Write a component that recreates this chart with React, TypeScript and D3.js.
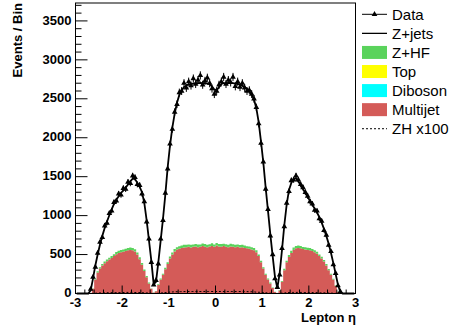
import React from "react";
import * as d3 from "d3";

// Binning: 120 bins of width 0.05 from eta = -3 to 3
const ETA_MIN = -3;
const ETA_MAX = 3;
const BIN_WIDTH = 0.05;

// Z+jets expectation (line)
const zjets = [
  0, 0, 0, 0, 0, 0, 40, 190, 360, 500,
  630, 740, 840, 925, 1005, 1080, 1150, 1205, 1250, 1290,
  1325, 1360, 1400, 1440, 1475, 1470, 1420, 1370, 1300, 1160,
  940, 680, 420, 120, 150, 400, 680, 960, 1270, 1620,
  1900, 2130, 2310, 2450, 2550, 2610, 2650, 2670, 2685, 2690,
  2695, 2700, 2700, 2705, 2700, 2700, 2695, 2690, 2660, 2620,
  2610, 2650, 2690, 2700, 2700, 2705, 2700, 2700, 2695, 2690,
  2685, 2670, 2650, 2630, 2600, 2560, 2490, 2380, 2200, 1950,
  1680, 1360, 1060, 760, 480, 210, 70, 260, 560, 880,
  1140, 1330, 1420, 1470, 1480, 1440, 1390, 1340, 1290, 1240,
  1190, 1140, 1090, 1040, 980, 910, 830, 740, 640, 520,
  390, 250, 110, 20, 0, 0, 0, 0, 0, 0,
];

// Observed data
const dataObs = [
  0, 0, 0, 0, 0, 0, 55, 210, 340, 520,
  660, 720, 870, 905, 1030, 1060, 1170, 1190, 1280, 1265,
  1350, 1340, 1430, 1415, 1510, 1490, 1400, 1390, 1280, 1180,
  920, 700, 400, 110, 170, 380, 700, 940, 1290, 1600,
  1920, 2110, 2330, 2430, 2580, 2600, 2700, 2640, 2720, 2670,
  2760, 2690, 2740, 2800, 2680, 2730, 2770, 2700, 2630, 2560,
  2600, 2680, 2720, 2780, 2690, 2740, 2710, 2780, 2660, 2720,
  2650, 2700, 2640, 2600, 2610, 2560, 2500, 2390, 2180, 1930,
  1690, 1340, 1080, 740, 500, 190, 80, 240, 580, 860,
  1160, 1310, 1450, 1460, 1510, 1460, 1400, 1360, 1300, 1250,
  1180, 1150, 1070, 1060, 960, 930, 810, 750, 620, 540,
  370, 260, 100, 25, 0, 0, 0, 0, 0, 0,
];

// Multijet (stack bottom)
const multijet = [
  0, 0, 0, 0, 0, 0, 0, 60, 180, 270,
  320, 360, 390, 415, 435, 455, 480, 505, 520, 530,
  535, 545, 555, 560, 555, 540, 500, 440, 370, 290,
  210, 130, 60, 10, 30, 110, 180, 240, 310, 380,
  450, 500, 540, 565, 575, 585, 590, 595, 600, 590,
  600, 605, 595, 600, 610, 600, 595, 605, 610, 600,
  615, 605, 600, 610, 600, 595, 605, 600, 595, 600,
  590, 595, 585, 580, 575, 565, 555, 530, 480, 400,
  320, 240, 180, 130, 70, 20, 5, 40, 150, 300,
  400, 470, 520, 560, 580, 585, 580, 570, 565, 560,
  555, 545, 530, 510, 480, 450, 410, 360, 300, 240,
  180, 100, 20, 0, 0, 0, 0, 0, 0, 0,
];

// Z+HF (stacked on top)
const zhf = [
  0, 0, 0, 0, 0, 0, 0, 5, 10, 15,
  18, 20, 22, 22, 25, 25, 25, 28, 28, 30,
  30, 30, 30, 30, 30, 28, 28, 25, 22, 18,
  15, 10, 5, 2, 3, 8, 12, 15, 20, 22,
  25, 28, 30, 30, 32, 32, 35, 32, 30, 35,
  30, 32, 35, 30, 32, 35, 30, 28, 35, 30,
  32, 30, 35, 30, 32, 30, 35, 32, 30, 30,
  32, 30, 30, 28, 30, 28, 28, 25, 22, 20,
  18, 15, 12, 10, 6, 3, 1, 4, 10, 18,
  22, 25, 28, 30, 30, 30, 30, 28, 28, 28,
  28, 25, 25, 25, 22, 22, 20, 18, 16, 14,
  10, 6, 2, 0, 0, 0, 0, 0, 0, 0,
];

// ZH signal x100 (dotted)
const zhx100 = [
  0, 0, 0, 0, 0, 0, 0, 2, 4, 6,
  7, 8, 9, 10, 10, 11, 12, 12, 13, 13,
  13, 14, 14, 14, 14, 13, 13, 12, 11, 9,
  7, 5, 3, 1, 1, 3, 6, 9, 12, 15,
  18, 20, 22, 23, 24, 24, 25, 25, 25, 25,
  26, 26, 26, 25, 26, 26, 25, 26, 26, 25,
  25, 26, 26, 25, 26, 26, 26, 25, 25, 25,
  25, 25, 24, 24, 23, 22, 20, 18, 16, 14,
  12, 9, 6, 4, 2, 1, 1, 2, 4, 7,
  10, 12, 13, 14, 14, 14, 14, 13, 13, 13,
  12, 12, 11, 11, 10, 9, 8, 7, 6, 5,
  4, 2, 1, 0, 0, 0, 0, 0, 0, 0,
];

const yTickValues = [0, 500, 1000, 1500, 2000, 2500, 3000, 3500];
const xTickValues = [-3, -2, -1, 0, 1, 2, 3];
const legendLabels = ["Data", "Z+jets", "Z+HF", "Top", "Diboson", "Multijet", "ZH x100"];
const legendKinds = ["data", "line", "box", "box", "box", "box", "dotted"];
const legendColors = ["#000", "#000", "#5ad35c", "#ffff00", "#00ffff", "#d45b58", "#000"];

const FONT = "'Liberation Sans', Arial, Helvetica, sans-serif";

export default function App() {
  const W = 454;
  const H = 333;
  const left = 75.5, right = 355.5, top = 3, bottom = 293.5;
  const x = d3.scaleLinear().domain([ETA_MIN, ETA_MAX]).range([left, right]);
  const y = d3.scaleLinear().domain([0, 3730]).range([bottom, top]);

  const n = zjets.length;
  const edges = d3.range(n + 1).map((i) => ETA_MIN + i * BIN_WIDTH);
  const centers = d3.range(n).map((i) => ETA_MIN + (i + 0.5) * BIN_WIDTH);

  type P = [number, number, number];
  const stepPts = (lo: number[], hi: number[]): P[] => {
    const pts: P[] = lo.map((v, i) => [edges[i], v, hi[i]] as P);
    pts.push([edges[n], lo[n - 1], hi[n - 1]]);
    return pts;
  };
  const area = d3
    .area<P>()
    .x((d) => x(d[0]))
    .y0((d) => y(d[1]))
    .y1((d) => y(d[2]))
    .curve(d3.curveStepAfter);
  const stepLine = d3
    .line<P>()
    .x((d) => x(d[0]))
    .y((d) => y(d[2]))
    .curve(d3.curveStepAfter);
  const smoothLine = d3
    .line<[number, number]>()
    .x((d) => x(d[0]))
    .y((d) => y(d[1]));

  const zeros = multijet.map(() => 0);
  const hfTop = multijet.map((v, i) => v + zhf[i]);

  const redPath = area(stepPts(zeros, multijet)) || "";
  const greenPath = area(stepPts(multijet, hfTop)) || "";
  const zjPath = smoothLine(zjets.map((v, i) => [centers[i], v] as [number, number])) || "";
  const zhPath = stepLine(stepPts(zeros, zhx100)) || "";

  const tri = d3.symbol().type(d3.symbolTriangle).size(14)() || "";

  const yMinor = d3.range(0, 3731, 100);
  const xMinor = d3.range(0, 31).map((i) => ETA_MIN + i * 0.2);

  const legendY = (k: number) => 14.3 + 19.07 * k;

  return (
    <svg
      width={W}
      height={H}
      style={{ position: "fixed", left: 0, top: 0, background: "#fff" }}
      fontFamily={FONT}
    >
      <rect x={0} y={0} width={W} height={H} fill="#fff" />
      {/* stacked fills */}
      <path d={redPath} fill="#d45b58" stroke="none" />
      <path d={greenPath} fill="#5ad35c" stroke="none" />
      {/* ZH x100 */}
      <path d={zhPath} fill="none" stroke="#000" strokeWidth={1} strokeDasharray="2,2" />
      {/* Z+jets line */}
      <path d={zjPath} fill="none" stroke="#000" strokeWidth={1.8} />
      {/* data */}
      <g>
        {dataObs.map((v, i) => {
          if (v <= 0) return null;
          const c = centers[i];
          const err = Math.sqrt(v);
          return (
            <g key={i}>
              <line x1={x(c)} x2={x(c)} y1={y(v - err)} y2={y(v + err)} stroke="#000" strokeWidth={1} />
              <line x1={x(edges[i])} x2={x(edges[i + 1])} y1={y(v)} y2={y(v)} stroke="#000" strokeWidth={1} />
              <path d={tri} transform={`translate(${x(c)},${y(v)})`} fill="#000" />
            </g>
          );
        })}
      </g>
      {/* frame */}
      <rect x={left} y={top} width={right - left} height={bottom - top} fill="none" stroke="#000" strokeWidth={1} />
      {/* y ticks */}
      {yMinor.map((v) => (
        <line key={"ym" + v} x1={left} x2={left + (v % 500 === 0 ? 12 : 6)} y1={y(v)} y2={y(v)} stroke="#000" strokeWidth={1} />
      ))}
      {yTickValues.map((v) => (
        <text key={"yl" + v} x={71.5} y={y(v) - 1} dy="0.36em" textAnchor="end" fontSize={13} fontWeight="bold">
          {v}
        </text>
      ))}
      {/* x ticks */}
      {xMinor.map((v, i) => (
        <line key={"xm" + i} x1={x(v)} x2={x(v)} y1={bottom} y2={bottom - (i % 5 === 0 ? 8 : 4)} stroke="#000" strokeWidth={1} />
      ))}
      {xTickValues.map((v) => (
        <text key={"xl" + v} x={x(v)} y={307} textAnchor="middle" fontSize={13} fontWeight="bold">
          {v}
        </text>
      ))}
      <text x={356} y={322} textAnchor="end" fontSize={13} fontWeight="bold">
        Lepton η
      </text>
      <text transform="translate(22,3) rotate(-90)" textAnchor="end" fontSize={13} fontWeight="bold">
        Events / Bin
      </text>
      {/* legend */}
      {legendLabels.map((lab, k) => {
        const cy = legendY(k);
        const kind = legendKinds[k];
        return (
          <g key={lab}>
            {kind === "box" && <rect x={362} y={cy - 6.5} width={25} height={13} fill={legendColors[k]} />}
            {kind === "line" && <line x1={362} x2={387} y1={cy} y2={cy} stroke="#000" strokeWidth={1.3} />}
            {kind === "dotted" && (
              <line x1={362} x2={387} y1={cy} y2={cy} stroke="#000" strokeWidth={1} strokeDasharray="2,2" />
            )}
            {kind === "data" && (
              <g>
                <line x1={362} x2={387} y1={cy} y2={cy} stroke="#000" strokeWidth={1} />
                <path d={tri} transform={`translate(374.5,${cy})`} fill="#000" />
              </g>
            )}
            <text x={392} y={cy} dy="0.36em" fontSize={15}>
              {lab}
            </text>
          </g>
        );
      })}
    </svg>
  );
}
